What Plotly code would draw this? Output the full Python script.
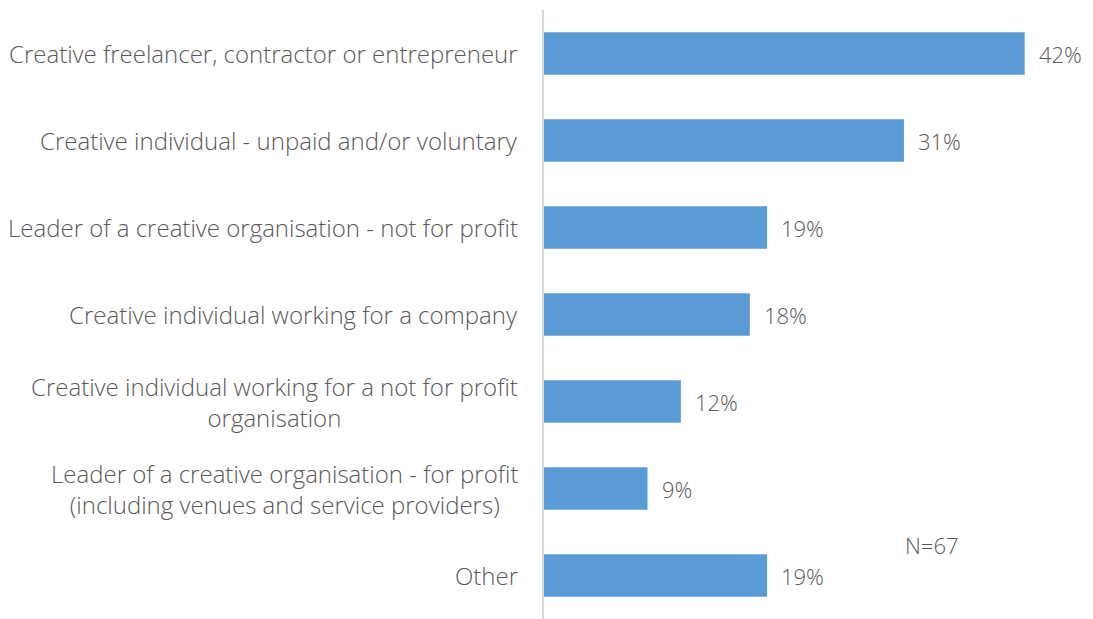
import plotly.graph_objects as go

categories = [
    "Creative freelancer, contractor or entrepreneur",
    "Creative individual - unpaid and/or voluntary",
    "Leader of a creative organisation - not for profit",
    "Creative individual working for a company",
    "Creative individual working for a not for profit<br>organisation",
    "Leader of a creative organisation - for profit<br>(including venues and service providers)",
    "Other",
]
values = [41.8, 31.3, 19.4, 17.9, 11.9, 9.0, 19.4]
sample_note = "N=67"

BAR = "#5B9BD5"
TXT = "#595959"
FONT = "Open Sans"
FS = 24

fig = go.Figure()
fig.add_trace(go.Bar(
    x=values, y=categories, orientation="h",
    marker=dict(color=BAR, line=dict(width=0)),
    width=0.49, hoverinfo="skip",
))

# category labels (centred multi-line, like the original)
for cat in categories:
    fig.add_annotation(
        x=0, y=cat, xref="paper", yref="y",
        text=cat, showarrow=False, xanchor="right", xshift=-24,
        align="center",
        font=dict(family=FONT, size=FS, color=TXT, weight=300),
    )

# value labels
for cat, v in zip(categories, values):
    fig.add_annotation(
        x=v, y=cat, xref="x", yref="y",
        text=f"{v:.0f}%", showarrow=False, xanchor="left", xshift=12,
        font=dict(family=FONT, size=22, color=TXT, weight=300),
    )

fig.add_annotation(
    x=0.709, y=0.1215, xref="paper", yref="paper",
    text=sample_note, showarrow=False, xanchor="center", yanchor="middle",
    font=dict(family=FONT, size=22, color=TXT, weight=300),
)

fig.update_layout(
    width=1093, height=619,
    margin=dict(l=536, r=10, t=2, b=8),
    plot_bgcolor="white", paper_bgcolor="white",
    showlegend=False,
    xaxis=dict(range=[0, 547 / 11.5], visible=False),
    yaxis=dict(
        autorange="reversed", showticklabels=False, ticks="",
        showgrid=False, zeroline=False,
        showline=True, linecolor="#D9D9D9", linewidth=1.5,
    ),
)

fig.write_html("out.html")
